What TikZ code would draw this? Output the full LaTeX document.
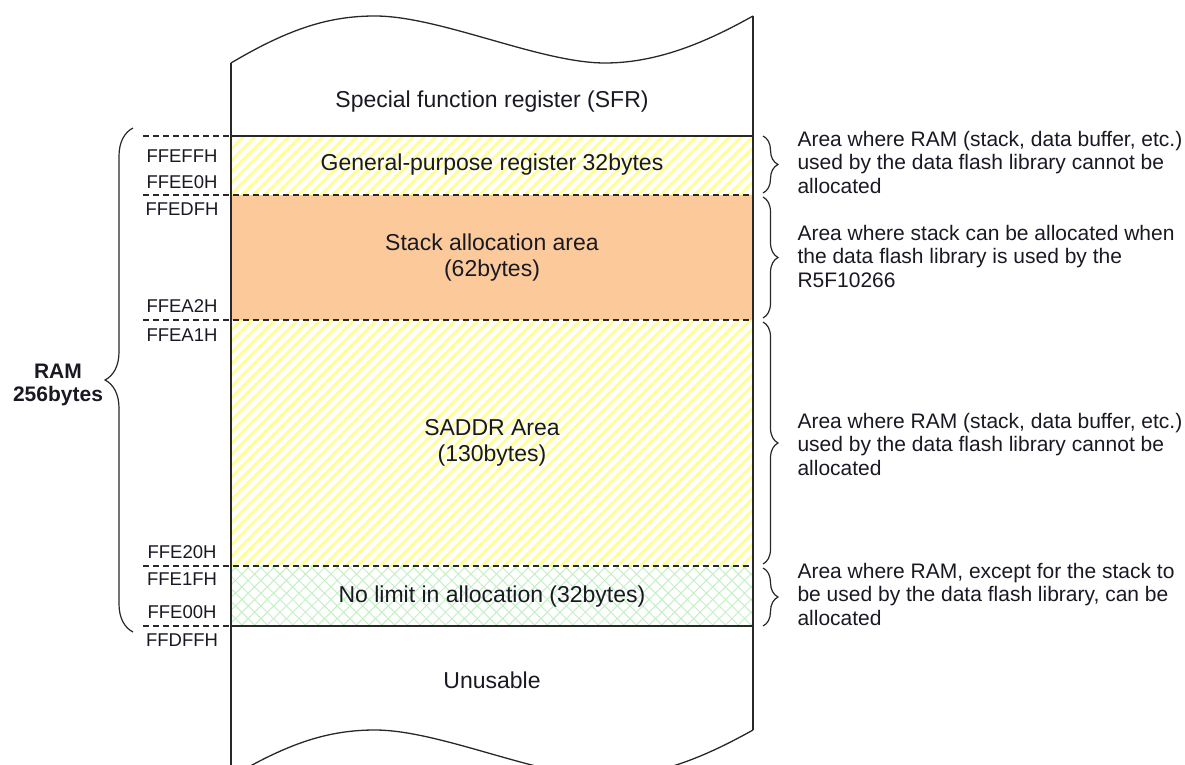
\documentclass[tikz,border=0pt]{standalone}
\usepackage{fontspec}
\setmainfont{Liberation Sans}
\usetikzlibrary{patterns.meta,decorations.pathreplacing}
\definecolor{peach}{RGB}{252,202,154}
\definecolor{hatchy}{RGB}{255,255,150}
\definecolor{hatchg}{RGB}{195,240,195}
\definecolor{lineg}{RGB}{40,40,40}
\definecolor{txt}{RGB}{25,25,35}
\begin{document}
\begin{tikzpicture}[x=1pt,y=-1pt,
  boxline/.style={draw=lineg,line width=1.3pt},
  dashline/.style={draw=lineg,line width=1.2pt,dash pattern=on 6pt off 4pt},
  midtext/.style={font=\fontsize{23}{26}\selectfont,text=txt,align=center},
  addr/.style={font=\fontsize{18.5}{20}\selectfont,text=txt},
  note/.style={font=\fontsize{21}{23.5}\selectfont,text=txt,align=left,anchor=west},
  bracel/.style={draw=lineg,line width=1.2pt,decorate,decoration={brace,amplitude=28pt}},
  bracer/.style={draw=lineg,line width=1.2pt,decorate,decoration={brace,amplitude=15pt}},
  yhatch/.style={pattern={Lines[angle=45,distance=8pt,line width=3pt]},pattern color=hatchy},
  ghatch/.style={pattern={Lines[angle=45,distance=9pt,line width=1pt]},pattern color=hatchg},
  ghatch2/.style={pattern={Lines[angle=-45,distance=9pt,line width=1pt]},pattern color=hatchg}]
\useasboundingbox (0,0) rectangle (1185,765);
\clip (0,0) rectangle (1185,765);
% fills
\fill[yhatch] (231,136) rectangle (753,195);
\fill[peach] (231,195) rectangle (753,320);
\fill[yhatch] (231,320) rectangle (753,566);
\fill[ghatch] (231,566) rectangle (753,626);
\fill[ghatch2] (231,566) rectangle (753,626);
% outline of the memory column
\draw[boxline] (231,63) .. controls (290,28) and (330,16) .. (375,16)
  .. controls (440,16) and (540,63) .. (605,63)
  .. controls (660,63) and (710,40) .. (753,16);
\draw[boxline] (231,777) .. controls (290,742) and (330,730) .. (375,730)
  .. controls (440,730) and (540,777) .. (605,777)
  .. controls (660,777) and (710,754) .. (753,730);
\draw[boxline] (231,63) -- (231,777);
\draw[boxline] (753,16) -- (753,730);
\draw[boxline] (231,136) -- (753,136);
\draw[boxline] (231,626) -- (753,626);
% dashed address lines
\draw[dashline] (143,136) -- (231,136);
\draw[dashline] (143,195) -- (753,195);
\draw[dashline] (143,320) -- (753,320);
\draw[dashline] (143,566) -- (753,566);
\draw[dashline] (143,626) -- (231,626);
% area texts
\node[midtext] (sfr) at (492,102) {Special function register (SFR)};
\node[midtext] (gpr) at (492,165) {General-purpose register 32bytes};
\node[midtext] (stk) at (492,258) {Stack allocation area\\(62bytes)};
\node[midtext] (sad) at (492,443) {SADDR Area\\(130bytes)};
\node[midtext] (nol) at (492,597) {No limit in allocation (32bytes)};
\node[midtext] (unu) at (492,680) {Unusable};
% addresses
\node[addr] (a1) at (182,156) {FFEFFH};
\node[addr] (a2) at (182,182) {FFEE0H};
\node[addr] (a3) at (182,209) {FFEDFH};
\node[addr] (a4) at (182,306) {FFEA2H};
\node[addr] (a5) at (182,335) {FFEA1H};
\node[addr] (a6) at (182,552) {FFE20H};
\node[addr] (a7) at (182,579) {FFE1FH};
\node[addr] (a8) at (182,612) {FFE00H};
\node[addr] (a9) at (182,640) {FFDFFH};
% RAM brace
\draw[bracel] (133,632) -- (133,128);
\node[font=\fontsize{21}{23}\selectfont\bfseries,text=txt,align=center] (ram) at (58,385) {RAM\\256bytes};
% right braces
\draw[bracer] (763,136) -- (763,193);
\draw[bracer] (763,197) -- (763,318);
\draw[bracer] (763,322) -- (763,564);
\draw[bracer] (763,568) -- (763,626);
\node[note] (n1) at (794,162) {Area where RAM (stack, data buffer, etc.)\\used by the data flash library cannot be\\allocated};
\node[note] (n2) at (794,256) {Area where stack can be allocated when\\the data flash library is used by the\\R5F10266};
\node[note] (n3) at (794,444) {Area where RAM (stack, data buffer, etc.)\\used by the data flash library cannot be\\allocated};
\node[note] (n4) at (794,594) {Area where RAM, except for the stack to\\be used by the data flash library, can be\\allocated};
\end{tikzpicture}
\end{document}
